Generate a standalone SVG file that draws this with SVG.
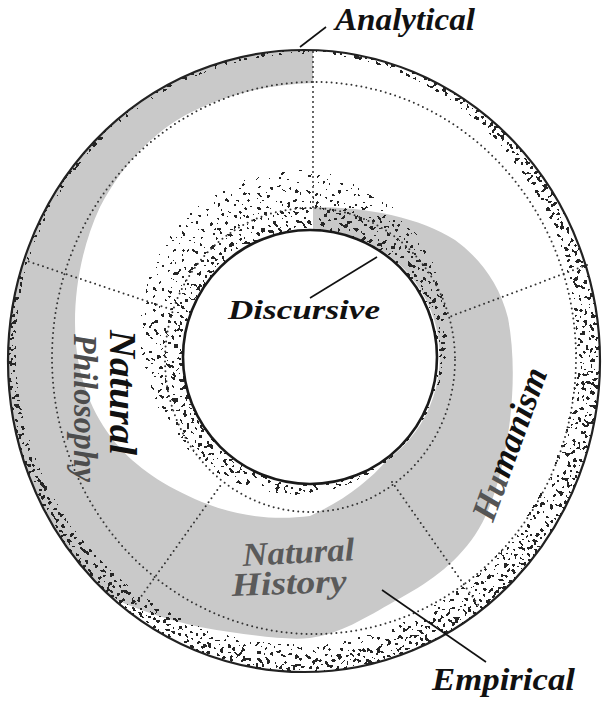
<svg xmlns="http://www.w3.org/2000/svg" width="604" height="710" viewBox="0 0 604 710">
<style>
.lbl{font-family:"Liberation Serif","DejaVu Serif",serif;font-style:italic;font-weight:bold;}
.dot{fill:none;stroke:#333;stroke-width:2;stroke-linecap:round;stroke-dasharray:0 5;}
.lead{stroke:#111;stroke-width:1.6;fill:none;}
</style>
<defs>
<filter id="stip" filterUnits="userSpaceOnUse" x="0" y="0" width="604" height="710" color-interpolation-filters="sRGB">
<feTurbulence type="fractalNoise" baseFrequency="0.55" numOctaves="1" seed="7" result="n"/>
<feColorMatrix in="n" type="matrix" values="0 0 0 0 0 0 0 0 0 0 0 0 0 0 0 1 0 0 0 0" result="na"/>
<feGaussianBlur in="na" stdDeviation="0.9" result="nb"/>
<feComponentTransfer in="nb" result="nc"><feFuncA type="linear" slope="5" intercept="-2"/></feComponentTransfer>
<feComposite in="nc" in2="SourceAlpha" operator="arithmetic" k1="0" k2="1" k3="1" k4="-1" result="s"/>
<feComponentTransfer in="s" result="t"><feFuncA type="discrete" tableValues="0 0 0 0 0 0 0 0 0 0 0 0 1 1 1 1 1 1 1 1"/></feComponentTransfer>
<feFlood flood-color="#262626" result="c"/>
<feComposite in="c" in2="t" operator="in"/>
</filter>
<radialGradient id="haloG" gradientUnits="userSpaceOnUse" cx="310" cy="357" r="195">
<stop offset="0.64" stop-opacity="1"/>
<stop offset="0.72" stop-opacity="0.965"/>
<stop offset="0.85" stop-opacity="0.915"/>
<stop offset="1" stop-opacity="0.86"/>
</radialGradient>
<radialGradient id="cresG" cx="0.5" cy="0.5" r="0.5">
<stop offset="0.9" stop-opacity="0.92"/>
<stop offset="0.97" stop-opacity="1"/>
</radialGradient>
<clipPath id="outerClip"><ellipse cx="304" cy="361" rx="296" ry="311"/></clipPath>
</defs>
<rect width="604" height="710" fill="#fff"/>

<g id="band">
<path fill="#c9c9c9" d="M313,50 A296,311 0 0 0 112,598 C150,615 190,627 230,632 C265,637 290,640 310,638 C340,634 365,618 395,601 C425,585 455,565 475,535 C495,505 505,460 510,420 C514,385 514,350 508,318 C500,285 480,258 455,240 C420,218 370,207 313,207 L313,230 A127,127 0 0 1 387,460 C370,480 345,500 310,516 C280,520 245,518 210,505 C170,490 140,470 120,448 C95,420 80,385 76,345 C72,300 80,250 100,207 C125,160 160,125 200,108 C235,92 275,84 313,83 Z"/>
</g>

<g id="stipple" clip-path="url(#outerClip)">
<g filter="url(#stip)">
<ellipse cx="294" cy="332" rx="154" ry="163" fill="url(#haloG)"/>
<ellipse cx="304" cy="361" rx="296" ry="311" fill="none" stroke="#000" stroke-opacity="0.96" stroke-width="9"/>
<ellipse cx="304" cy="361" rx="296" ry="311" fill="none" stroke="#000" stroke-width="3"/>
<path fill="url(#cresG)" fill-rule="evenodd" d="M8,361 A296,311 0 1 0 600,361 A296,311 0 1 0 8,361 Z M16,348 A280,296 0 1 0 576,348 A280,296 0 1 0 16,348 Z"/>
</g>
</g>

<g id="dividers">
<ellipse class="dot" cx="314" cy="358" rx="262" ry="276"/>
<ellipse class="dot" cx="310" cy="360" rx="145" ry="152"/>
<line class="dot" x1="313" y1="52" x2="313" y2="208"/>
<line class="dot" x1="24" y1="260" x2="173" y2="310"/>
<line class="dot" x1="587" y1="265" x2="449" y2="317"/>
<line class="dot" x1="130" y1="612" x2="223" y2="482"/>
<line class="dot" x1="392" y1="482" x2="479" y2="606"/>
</g>

<g id="outer-ring">
<ellipse cx="304" cy="361" rx="296" ry="311" fill="none" stroke="#222" stroke-width="2.2"/>
</g>

<g id="discursive">
<circle cx="310" cy="357" r="127" fill="#fff" stroke="#1a1a1a" stroke-width="2.6"/>
<text class="lbl" x="228" y="319" font-size="28" textLength="152" lengthAdjust="spacingAndGlyphs" fill="#111">Discursive</text>
</g>

<g id="connectors">
<line class="lead" x1="300" y1="47" x2="326" y2="27"/>
<line class="lead" x1="310" y1="298" x2="377" y2="257"/>
<line class="lead" x1="382" y1="590" x2="486" y2="662"/>
</g>

<g id="analytical">
<text class="lbl" x="335" y="30" font-size="32" textLength="140" lengthAdjust="spacingAndGlyphs" fill="#111">Analytical</text>
</g>

<g id="empirical">
<text class="lbl" x="432" y="690" font-size="32" textLength="143" lengthAdjust="spacingAndGlyphs" fill="#111">Empirical</text>
</g>

<g id="natural-philosophy">
<text class="lbl" transform="translate(110,330) rotate(90)" font-size="38" textLength="125" lengthAdjust="spacingAndGlyphs" fill="#111">Natural</text>
<text class="lbl" transform="translate(74,334) rotate(90)" font-size="34" textLength="148" lengthAdjust="spacingAndGlyphs" fill="#4d4d4d">Philosophy</text>
</g>

<g id="humanism">
<text class="lbl" transform="translate(493,523) rotate(-70)" font-size="35" textLength="160" lengthAdjust="spacingAndGlyphs" fill="#111"><tspan fill="#555">Hu</tspan>manism</text>
</g>

<g id="natural-history">
<text class="lbl" transform="translate(243,566) rotate(-3)" font-size="33" textLength="112" lengthAdjust="spacingAndGlyphs" fill="#5a5a5a">Natural</text>
<text class="lbl" transform="translate(232,596) rotate(-2)" font-size="33" textLength="115" lengthAdjust="spacingAndGlyphs" fill="#5a5a5a">History</text>
</g>
</svg>
